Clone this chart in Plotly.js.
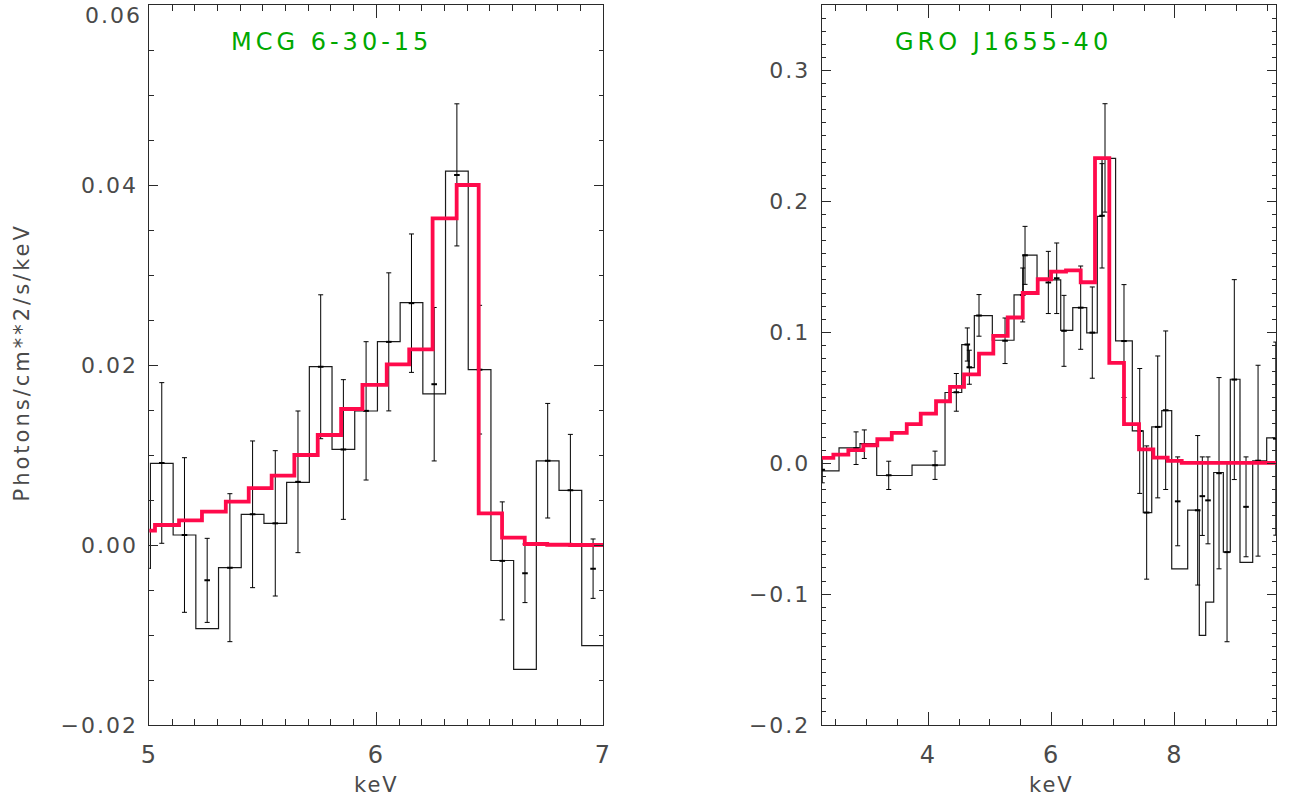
<!DOCTYPE html>
<html>
<head>
<meta charset="utf-8">
<script src="https://cdn.plot.ly/plotly-3.0.1.min.js"></script>
<style>
  html, body { margin: 0; padding: 0; background: #ffffff; }
  #chart { width: 1295px; height: 801px; }
  #chart .yaxislayer-above text, #chart .xaxislayer-above text { letter-spacing: 2px; }
</style>
</head>
<body>
<div id="chart"></div>
<script>
// ---------------- MCG 6-30-15 (left panel) ----------------
const mcgBinEdges = [4.905, 5.005, 5.105, 5.205, 5.305, 5.405, 5.505, 5.605, 5.705, 5.805, 5.905,
                     6.005, 6.105, 6.205, 6.305, 6.405, 6.505, 6.605, 6.705, 6.805, 6.905, 7.005];
const mcgCounts = [-0.0026, 0.00907, 0.00111, -0.0093, -0.00252, 0.00341, 0.00241, 0.00696, 0.01981, 0.01063,
                   0.01489, 0.02259, 0.02693, 0.0168, 0.04154, 0.01948, -0.00172, -0.01381, 0.00934, 0.00607, -0.01118];
const mcgErrEnergy = [5.055, 5.155, 5.255, 5.355, 5.455, 5.555, 5.655, 5.755, 5.855, 5.955,
                      6.055, 6.155, 6.255, 6.355, 6.455, 6.555, 6.655, 6.755, 6.855, 6.955];
const mcgErrLow  = [0.00019, -0.00748, -0.0086, -0.01074, -0.00474, -0.00567, -0.00085, 0.01181, 0.00285, 0.00722,
                    0.0149, 0.01918, 0.00934, 0.03323, 0.01233, -0.00832, -0.0064, 0.003, -0.0001, -0.00593];
const mcgErrHigh = [0.01804, 0.0097, 0.00074, 0.0057, 0.01156, 0.01048, 0.01489, 0.0278, 0.01837, 0.02259,
                    0.03024, 0.03456, 0.02639, 0.04902, 0.02663, 0.00479, 0.00011, 0.01573, 0.01229, 0.00067];
const mcgModelEdges = [4.92, 5.025, 5.131, 5.232, 5.337, 5.438, 5.539, 5.639, 5.742, 5.845, 5.939,
                       6.046, 6.145, 6.248, 6.354, 6.451, 6.554, 6.654, 6.753, 6.855, 6.957, 7.06];
const mcgModel = [0.00159, 0.00222, 0.00274, 0.0037, 0.00481, 0.00633, 0.0077, 0.01, 0.01222, 0.01511, 0.0178,
                  0.02007, 0.02173, 0.03629, 0.04, 0.00351, 0.00083, 0.00011, 0.00003, 0.0, 0.0];
const mcgYTicks = [-0.02, 0.0, 0.02, 0.04, 0.06];

// ---------------- GRO J1655-40 (right panel) ----------------
const groBinEdges = [2.20, 2.552, 2.892, 3.163, 3.736, 4.271, 4.542, 4.649, 4.746, 5.038, 5.390, 5.540, 5.763,
                     6.147, 6.342, 6.569, 6.740, 6.817, 7.037, 7.308, 7.486, 7.623, 7.785, 7.947, 8.206, 8.394,
                     8.498, 8.628, 8.784, 8.897, 9.054, 9.260, 9.487, 9.70];
const groCounts = [-0.0059, 0.0117, 0.015, -0.0094, -0.0015, 0.054, 0.0906, 0.073, 0.1127, 0.0939, 0.1285,
                   0.159, 0.140, 0.1015, 0.1188, 0.0995, 0.1885, 0.2329, 0.0934, 0.0247, -0.0377, 0.0277,
                   0.0402, -0.0807, -0.0359, -0.1316, -0.1061, -0.0071, -0.0679, 0.0641, -0.0758, 0.0018, 0.0193];
const groErrEnergy = [2.28, 2.828, 2.962, 3.358, 4.109, 4.454, 4.632, 4.665, 4.822, 5.244, 5.531, 5.568,
                      5.946, 6.082, 6.200, 6.471, 6.659, 6.817, 6.865, 7.173, 7.428, 7.541, 7.720, 7.849,
                      8.044, 8.368, 8.443, 8.535, 8.714, 8.844, 8.962, 9.152, 9.347, 9.635];
const groErrLow  = [-0.015, -0.001, 0.0036, -0.0201, -0.0124, 0.0397, 0.078, 0.0603, 0.097, 0.0761, 0.1079, 0.1366,
                    0.1143, 0.1143, 0.074, 0.087, 0.0649, 0.1491, 0.1918, 0.0502, -0.0231, -0.0886, -0.0265, -0.0201,
                    -0.0631, -0.0931, -0.0552, -0.0616, -0.0807, -0.1364, -0.0125, -0.0715, -0.071, -0.055];
const groErrHigh = [0.005, 0.0239, 0.0254, 0.0015, 0.0092, 0.0685, 0.1033, 0.0863, 0.1288, 0.1109, 0.1491, 0.1809,
                    0.1618, 0.1682, 0.1282, 0.1506, 0.1346, 0.2288, 0.2746, 0.1364, 0.0723, 0.0132, 0.0819, 0.101,
                    0.0048, 0.0211, 0.0048, 0.0048, 0.0654, 0.0005, 0.1402, 0.0048, 0.0748, 0.0925];
const groModelEdges = [2.20, 2.460, 2.703, 2.946, 3.173, 3.407, 3.650, 3.877, 4.125, 4.352, 4.579, 4.822, 5.054,
                       5.287, 5.531, 5.774, 5.990, 6.233, 6.471, 6.703, 6.935, 7.173, 7.417, 7.649, 7.882, 8.109, 9.70];
const groModel = [0.004, 0.0066, 0.0099, 0.0137, 0.0183, 0.0232, 0.0298, 0.0379, 0.0473, 0.0583, 0.0678, 0.0837,
                  0.0972, 0.1113, 0.130, 0.1405, 0.1463, 0.1473, 0.1382, 0.2331, 0.0766, 0.0298, 0.0105, 0.0043,
                  0.0018, 0.0003];

const panelTitles = ["MCG 6-30-15", "GRO J1655-40"];
const xTitle = "keV";
const yTitle = "Photons/cm**2/s/keV";

// ---------------- helpers ----------------
function stepTrace(edges, levels, xa, ya, color, width) {
  return {
    type: "scatter", mode: "lines", xaxis: xa, yaxis: ya,
    x: edges.slice(),
    y: levels.concat([levels[levels.length - 1]]),
    line: { shape: "hv", color: color, width: width },
    hoverinfo: "skip", showlegend: false
  };
}
function errTrace(energy, low, high, xa, ya) {
  const mid = low.map((l, i) => (l + high[i]) / 2);
  const half = low.map((l, i) => (high[i] - l) / 2);
  return {
    type: "scatter", mode: "markers", xaxis: xa, yaxis: ya,
    x: energy, y: mid,
    marker: { symbol: "line-ew", size: 4, color: "#000", line: { color: "#000", width: 2 } },
    error_y: { type: "data", symmetric: true, array: half, color: "#000", thickness: 1, width: 2.5 },
    hoverinfo: "skip", showlegend: false
  };
}

const RED = "#ff0a4b";
const traces = [
  stepTrace(mcgBinEdges, mcgCounts, "x", "y", "#1a1a1a", 1.2),
  errTrace(mcgErrEnergy, mcgErrLow, mcgErrHigh, "x", "y"),
  stepTrace(mcgModelEdges, mcgModel, "x", "y", RED, 3.8),
  stepTrace(groBinEdges, groCounts, "x2", "y2", "#1a1a1a", 1.2),
  errTrace(groErrEnergy, groErrLow, groErrHigh, "x2", "y2"),
  stepTrace(groModelEdges, groModel, "x2", "y2", RED, 3.8)
];

const W = 1295, H = 801;
const AX = "#2a2a2a";
const LBL = "#4a4a4a";
const FAM = "DejaVu Sans, sans-serif";
const tickFontY = { family: FAM, size: 22, color: LBL };
const tickFontX = { family: FAM, size: 24, color: LBL };

function xAxis(domain, range, dtick, minorDtick, anchor) {
  return {
    domain: domain, range: range, anchor: anchor, dtick: dtick, tick0: 0,
    ticks: "inside", ticklen: 13, tickwidth: 1, tickcolor: AX,
    showline: true, linecolor: AX, linewidth: 1, mirror: "allticks",
    showgrid: false, zeroline: false, automargin: false, ticklabeloverflow: "allow",
    minor: { dtick: minorDtick, tick0: 0, ticks: "inside", ticklen: 6, tickwidth: 1, tickcolor: AX, showgrid: false },
    tickfont: tickFontX, ticklabelstandoff: 8, fixedrange: true
  };
}
function yAxis(domain, range, dtick, minorDtick, fmt, anchor) {
  return {
    domain: domain, range: range, anchor: anchor, dtick: dtick, tick0: 0, tickformat: fmt,
    ticks: "inside", ticklen: 9, tickwidth: 1, tickcolor: AX,
    showline: true, linecolor: AX, linewidth: 1, mirror: "allticks",
    showgrid: false, zeroline: false, automargin: false, ticklabeloverflow: "allow",
    minor: { dtick: minorDtick, tick0: 0, ticks: "inside", ticklen: 4.5, tickwidth: 1, tickcolor: AX, showgrid: false },
    tickfont: tickFontY, ticklabelstandoff: 6, fixedrange: true
  };
}

const yDom = [(H - 725) / H, (H - 5) / H];
const xDomL = [149.3 / W, 603.3 / W];
const xDomR = [821.7 / W, 1276 / W];

// left y axis: ticks at every major value; the top label (at the frame edge) is
// set just inside the page as in the original, the others are normal tick labels
const yLeft = yAxis(yDom, [-0.0200001, 0.0600001], 0.02, 0.005, ".2f", "x");
yLeft.tickmode = "array";
yLeft.tickvals = mcgYTicks;
yLeft.ticktext = mcgYTicks.map(function (v, i) {
  return i === mcgYTicks.length - 1 ? "" : (v < 0 ? "\u2212" : "") + Math.abs(v).toFixed(2);
});
const topLabel = mcgYTicks[mcgYTicks.length - 1].toFixed(2);

const GREEN = "#00a800";
const layout = {
  width: W, height: H,
  margin: { l: 0, r: 0, t: 0, b: 0 },
  paper_bgcolor: "#ffffff", plot_bgcolor: "#ffffff",
  showlegend: false,
  xaxis: xAxis(xDomL, [5, 7], 1, 0.1, "y"),
  yaxis: yLeft,
  xaxis2: xAxis(xDomR, [2.271, 9.638], 2, 0.5, "y2"),
  yaxis2: yAxis(yDom, [-0.2, 0.35], 0.1, 0.01, ".1f", "x2"),
  annotations: [
    { text: panelTitles[0], xref: "paper", yref: "paper", x: 331.7 / W, y: (H - 42) / H,
      xanchor: "center", yanchor: "middle", showarrow: false,
      font: { family: FAM, size: 24, color: GREEN } },
    { text: panelTitles[1], xref: "paper", yref: "paper", x: 1003.8 / W, y: (H - 42) / H,
      xanchor: "center", yanchor: "middle", showarrow: false,
      font: { family: FAM, size: 24, color: GREEN } },
    { text: xTitle, xref: "paper", yref: "paper", x: 376.3 / W, y: (H - 785) / H,
      xanchor: "center", yanchor: "middle", showarrow: false,
      font: { family: FAM, size: 21, color: LBL } },
    { text: xTitle, xref: "paper", yref: "paper", x: 1051.7 / W, y: (H - 785) / H,
      xanchor: "center", yanchor: "middle", showarrow: false,
      font: { family: FAM, size: 21, color: LBL } },
    { text: yTitle, xref: "paper", yref: "paper", x: 22 / W, y: (H - 362) / H,
      xanchor: "center", yanchor: "middle", showarrow: false, textangle: -90,
      font: { family: FAM, size: 21, color: LBL } },
    { text: topLabel, xref: "paper", yref: "paper", x: 139.5 / W, y: (H - 15) / H,
      xanchor: "right", yanchor: "middle", showarrow: false,
      font: { family: FAM, size: 22, color: LBL } }
  ]
};

Plotly.newPlot("chart", traces, layout, { displayModeBar: false, staticPlot: true }).then(function (gd) {
  // widen the lettering like the original wide plotting font
  const texts = gd.querySelectorAll(".annotation-text");
  texts.forEach(function (t, i) {
    if (i < 2) t.style.letterSpacing = "4px";
    else if (i === 4) t.style.letterSpacing = "3px";
    else t.style.letterSpacing = "2px";
  });
});
</script>
</body>
</html>
